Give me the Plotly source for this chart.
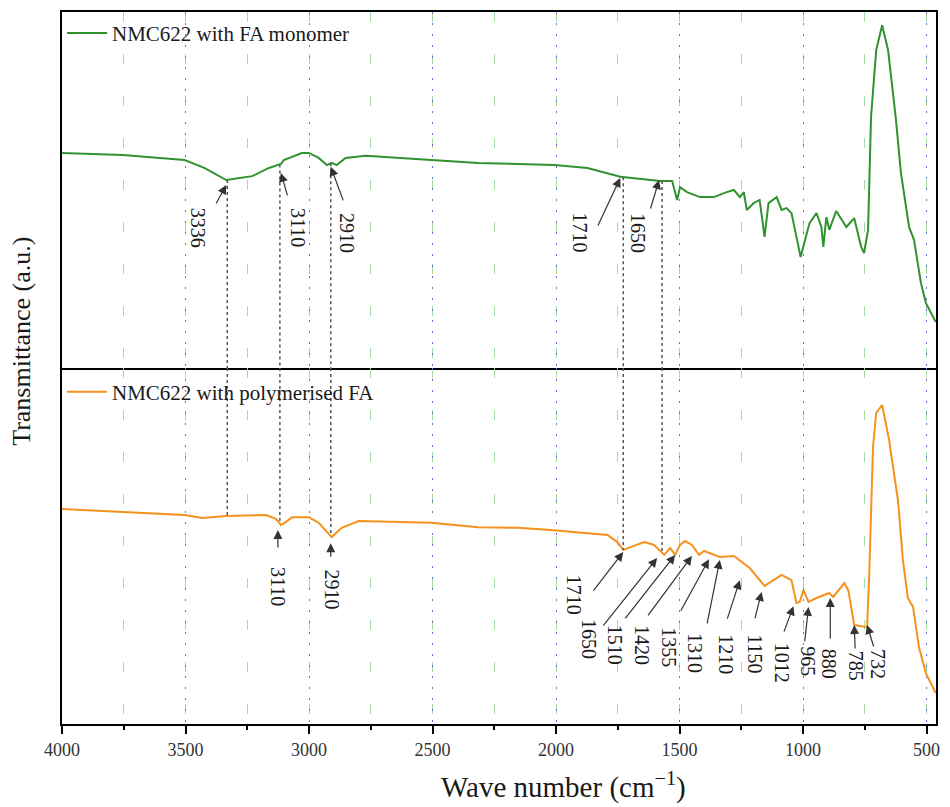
import numpy as np
import plotly.graph_objects as go
from plotly.subplots import make_subplots

# ---------------- data ----------------
series_names = ["NMC622 with FA monomer", "NMC622 with polymerised FA"]

wn_mono = [4000, 3754, 3504, 3424, 3335, 3230, 3162, 3122, 3114, 3102,
           3029, 3001, 2961, 2928, 2908, 2888, 2852, 2771, 2505, 2316,
           2006, 1873, 1740, 1579, 1530, 1510, 1498, 1470, 1417, 1361,
           1309, 1280, 1256, 1240, 1228, 1200, 1176, 1156, 1140, 1107,
           1087, 1067, 1047, 1010, 974, 946, 926, 918, 906, 894,
           866, 825, 793, 765, 753, 737, 725, 704, 680, 656,
           624, 604, 571, 551, 523, 503, 463]
t_mono = [60.4, 59.8, 58.4, 56.2, 52.8, 53.9, 56.2, 57.0, 57.3, 58.4,
          60.4, 60.4, 59.0, 57.0, 57.6, 57.0, 59.0, 59.6, 58.4, 57.6,
          57.0, 56.2, 53.7, 52.5, 52.5, 47.2, 50.8, 49.4, 48.0, 48.0,
          49.4, 50.0, 48.0, 49.4, 44.4, 46.3, 47.2, 36.8, 46.3, 48.0,
          44.4, 44.9, 43.5, 31.2, 40.7, 43.5, 39.6, 34.0, 42.4, 38.8,
          44.1, 39.6, 42.1, 34.0, 32.3, 38.8, 70.5, 89.3, 96.3, 89.3,
          69.7, 54.8, 39.6, 36.0, 23.9, 18.3, 12.9]

wn_poly = [4000, 3754, 3504, 3432, 3335, 3174, 3134, 3114, 3094, 3069,
           3001, 2961, 2908, 2868, 2799, 2505, 2316, 2155, 2022, 1792,
           1752, 1728, 1699, 1643, 1603, 1562, 1538, 1518, 1498, 1478,
           1450, 1421, 1401, 1361, 1337, 1280, 1216, 1156, 1119, 1087,
           1047, 1027, 1014, 998, 978, 946, 894, 878, 833, 817,
           793, 741, 733, 717, 704, 680, 652, 632, 616, 596,
           576, 555, 531, 503, 463]
t_poly = [60.4, 59.6, 58.7, 57.9, 58.4, 58.7, 57.6, 55.9, 56.7, 58.1,
          58.1, 56.5, 52.5, 55.1, 57.0, 56.5, 55.3, 55.1, 54.5, 53.1,
          51.1, 48.9, 49.7, 51.1, 50.3, 47.5, 49.4, 47.5, 50.3, 51.4,
          50.3, 47.5, 48.6, 47.5, 46.9, 47.2, 43.8, 38.8, 40.4, 41.9,
          40.4, 34.0, 34.3, 37.6, 34.3, 35.4, 36.8, 35.7, 39.6, 37.6,
          27.8, 27.2, 40.4, 77.8, 87.4, 89.6, 79.8, 70.5, 62.9, 46.1,
          35.4, 32.9, 21.6, 14.3, 8.7]

x_tick_vals = [4000, 3500, 3000, 2500, 2000, 1500, 1000, 500]
x_tick_text = ["4000", "3500", "3000", "2500", "2000", "1500", "1000", "500"]

# peak marks (label, arrow-target wavenumber, arrow-target transmittance)
top_labels = ["3336", "3110", "2910", "1710", "1650"]
top_mark_wn = [3335, 3114, 2912, 1740, 1583]
top_mark_t = [51.4, 54.8, 56.5, 53.4, 52.8]

bot_labels = ["3110", "2910", "1710", "1650", "1510", "1420", "1355", "1310",
              "1210", "1150", "1012", "965", "880", "785", "732"]
bot_mark_wn = [3126, 2912, 1728, 1591, 1518, 1450, 1381, 1337,
               1256, 1168, 1039, 978, 890, 793, 741]
bot_mark_t = [54.5, 50.8, 48.3, 46.6, 47.5, 47.2, 46.3, 46.1,
              40.4, 37.1, 33.1, 32.9, 35.4, 27.8, 27.8]

# wavenumbers joined by dotted connectors between the two spectra
connector_wn = [3331, 3118, 2912, 1728, 1571]

# ---------------- layout offsets (pixels) ----------------
top_tail = [(-11, 20), (7, 24), (13, 35), (-23, 49), (-9, 30)]
top_lab = [(-28, 43), (17, 55), (16, 66), (-40, 55), (-21, 53)]
bot_tail = [(0, 19), (0, 15), (-31, 40), (-55, 69), (-51, 65), (-45, 61),
            (-29, 53), (-13, 65), (-13, 40), (-7, 28), (-10, 27), (-4, 36),
            (0, 42), (1, 25), (7, 23)]
bot_lab = [(0, 57), (1, 46), (-49, 43), (-68, 81), (-60, 90), (-50, 89),
           (-40, 88), (-25, 93), (-14, 74), (-7, 62), (-12, 57), (0, 54),
           (-1, 66), (2, 41), (11, 39)]

GREEN = "#2f922f"
ORANGE = "#f5921e"
FONT = "Liberation Serif"
TXT = "#1a1a1a"

fig = make_subplots(rows=2, cols=1, shared_xaxes=True, vertical_spacing=0)

fig.add_trace(go.Scatter(x=wn_mono, y=t_mono, mode="lines", name=series_names[0],
                         line=dict(color=GREEN, width=2), legend="legend"), row=1, col=1)
fig.add_trace(go.Scatter(x=wn_poly, y=t_poly, mode="lines", name=series_names[1],
                         line=dict(color=ORANGE, width=2), legend="legend2"), row=2, col=1)

# connectors
wm_inc = np.array(wn_mono[::-1], dtype=float)
tm_inc = np.array(t_mono[::-1], dtype=float)
wp_inc = np.array(wn_poly[::-1], dtype=float)
tp_inc = np.array(t_poly[::-1], dtype=float)
shapes = []
for w in connector_wn:
    yt = float(np.interp(w, wm_inc, tm_inc))
    yb = float(np.interp(w, wp_inc, tp_inc))
    shapes.append(dict(type="line", xref="x", yref="y", x0=w, x1=w, y0=yt, y1=0,
                       line=dict(color="#555555", width=1.5, dash="dot")))
    shapes.append(dict(type="line", xref="x2", yref="y2", x0=w, x1=w, y0=100, y1=yb,
                       line=dict(color="#555555", width=1.5, dash="dot")))

annotations = []


def add_marks(labels, wns, ts, tails, labs, xr, yr):
    for lab, w, t, (tx, ty), (lx, ly) in zip(labels, wns, ts, tails, labs):
        annotations.append(dict(x=w, y=t, xref=xr, yref=yr, text="", showarrow=True,
                                ax=tx, ay=ty, arrowhead=2, arrowsize=1.5,
                                arrowwidth=1.2, arrowcolor="#333333",
                                standoff=0, startstandoff=0))
        annotations.append(dict(x=w, y=t, xref=xr, yref=yr, text=lab, showarrow=False,
                                xshift=lx, yshift=-ly, textangle=90,
                                xanchor="center", yanchor="middle",
                                font=dict(family=FONT, size=20, color=TXT)))


add_marks(top_labels, top_mark_wn, top_mark_t, top_tail, top_lab, "x", "y")
add_marks(bot_labels, bot_mark_wn, bot_mark_t, bot_tail, bot_lab, "x2", "y2")

# axis titles
annotations.append(dict(text="Transmittance (a.u.)", xref="paper", yref="paper",
                        x=-0.0456, y=0.537, showarrow=False, textangle=-90,
                        xanchor="center", yanchor="middle",
                        font=dict(family=FONT, size=26, color=TXT)))
annotations.append(dict(text="Wave number (cm<sup>−1</sup>)", xref="paper", yref="paper",
                        x=0.574, y=-0.0857, showarrow=False,
                        xanchor="center", yanchor="middle",
                        font=dict(family=FONT, size=29, color=TXT)))

xcommon = dict(range=[4000, 462], showline=True, linecolor="black",
               linewidth=2, showgrid=True, gridcolor="#6b6bd0", griddash="2px,9px",
               gridwidth=1.2, tickmode="array", tickvals=x_tick_vals, zeroline=False)
fig.update_xaxes(**xcommon, mirror=True, ticks="", showticklabels=False,
                 minor=dict(dtick=250, tick0=250, showgrid=True, gridcolor="#a3dca3",
                            griddash="10px,32px", gridwidth=1.2, ticks=""),
                 row=1, col=1)
fig.update_xaxes(**xcommon, mirror=False, ticktext=x_tick_text, ticks="outside", ticklen=8,
                 tickwidth=1.5, tickcolor="black",
                 tickfont=dict(family=FONT, size=18, color="#333333"),
                 minor=dict(dtick=250, tick0=250, showgrid=True, gridcolor="#a3dca3",
                            griddash="10px,32px", gridwidth=1.2, ticks="outside",
                            ticklen=4, tickcolor="black", tickwidth=1.5),
                 row=2, col=1)
fig.update_yaxes(range=[0, 100], showline=True, mirror=True, linecolor="black",
                 linewidth=2, showgrid=False, zeroline=False, showticklabels=False,
                 ticks="")

fig.update_layout(
    width=950, height=807,
    margin=dict(l=62, r=10, t=12, b=83),
    plot_bgcolor="white", paper_bgcolor="white",
    shapes=shapes, annotations=annotations,
    legend=dict(x=0.0, y=0.970, xanchor="left", yanchor="middle",
                bgcolor="rgba(0,0,0,0)", font=dict(family=FONT, size=21, color=TXT),
                itemwidth=40),
    legend2=dict(x=0.0, y=0.466, xanchor="left", yanchor="middle",
                 bgcolor="rgba(0,0,0,0)", font=dict(family=FONT, size=21, color=TXT),
                 itemwidth=40),
    showlegend=True,
)

fig.write_html("out.html", config={"displayModeBar": False},
               post_script="document.body.style.margin='0px';")
